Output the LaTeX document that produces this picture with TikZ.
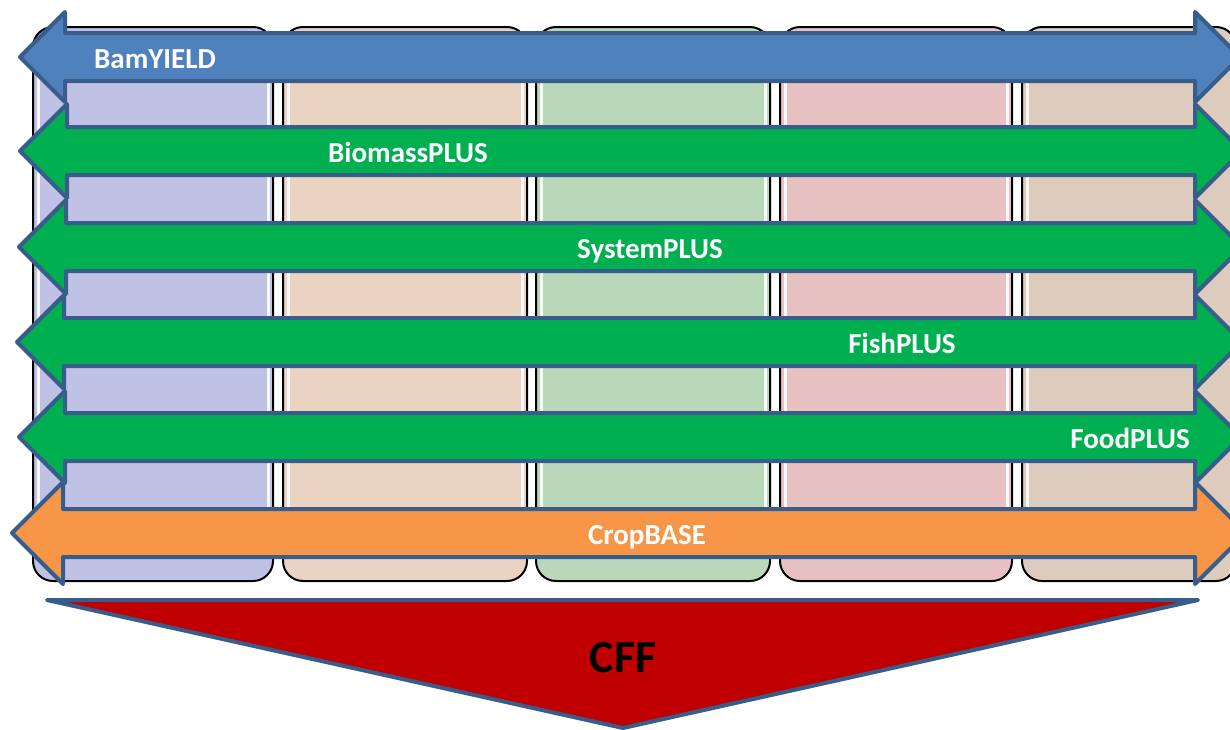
\documentclass[tikz,border=0pt]{standalone}
\usepackage{fontspec}
\setmainfont{Carlito}
\usetikzlibrary{calc}
\definecolor{edgeblue}{RGB}{56,93,138}
\definecolor{bandblue}{RGB}{79,129,189}
\definecolor{bandgreen}{RGB}{0,176,80}
\definecolor{bandorange}{RGB}{247,150,70}
\definecolor{cffred}{RGB}{192,0,0}
\definecolor{colA}{RGB}{191,194,228}
\definecolor{colB}{RGB}{234,211,193}
\definecolor{colC}{RGB}{185,215,185}
\definecolor{colD}{RGB}{232,194,195}
\definecolor{colE}{RGB}{221,203,189}
% double headed band: centre y, half head, left tip x, fill
\newcommand{\bandarrow}[4]{%
\filldraw[band,fill=#4] (#3,#1) -- (#3+#2,#1-#2) -- (#3+#2,#1-24) -- (1195,#1-24) -- (1195,#1-#2)
 -- (1195+#2,#1) -- (1195,#1+#2) -- (1195,#1+24) -- (#3+#2,#1+24) -- (#3+#2,#1+#2) -- cycle;}

\begin{document}
\begin{tikzpicture}[x=0.5pt,y=-0.5pt,
  lbl/.style={text=white,anchor=base,font=\bfseries\fontsize{14.5}{17}\selectfont},
  band/.style={draw=edgeblue,line width=2pt,line join=round},
  colbox/.style={draw=black,line width=1pt,rounded corners=10pt}]
\useasboundingbox (0,0) rectangle (1230,729);
% columns
\foreach \xa/\xb/\c in {33/273/colA,283/527/colB,536/770/colC,780/1012/colD,1022/1236/colE}{
  \draw[colbox,fill=\c] (\xa,27) rectangle (\xb,581);
  \draw[white,line width=1.5pt,opacity=.9] (\xa+5,50) -- (\xa+5,556) (\xb-5,50) -- (\xb-5,556);
}
% bands
\foreach \y/\h/\t/\c/\lx/\txt/\nm in {57/45/20/bandblue/155/BamYIELD/bam,
  151/47/20/bandgreen/408/BiomassPLUS/biomass,
  247/47/19/bandgreen/650/SystemPLUS/system,
  342/47/17/bandgreen/902/FishPLUS/fish,
  437/46/19/bandgreen/1130/FoodPLUS/food,
  533/51/12/bandorange/647/CropBASE/crop}{
  \bandarrow{\y}{\h}{\t}{\c}
  \node[lbl] (\nm) at (\lx,\y+11) {\txt};
}
% CFF
\filldraw[band,fill=cffred] (47,600) -- (1198,600) -- (623,728) -- cycle;
\node[anchor=base,font=\bfseries\fontsize{23}{26}\selectfont] (cff) at (623,672) {CFF};
\end{tikzpicture}
\end{document}
